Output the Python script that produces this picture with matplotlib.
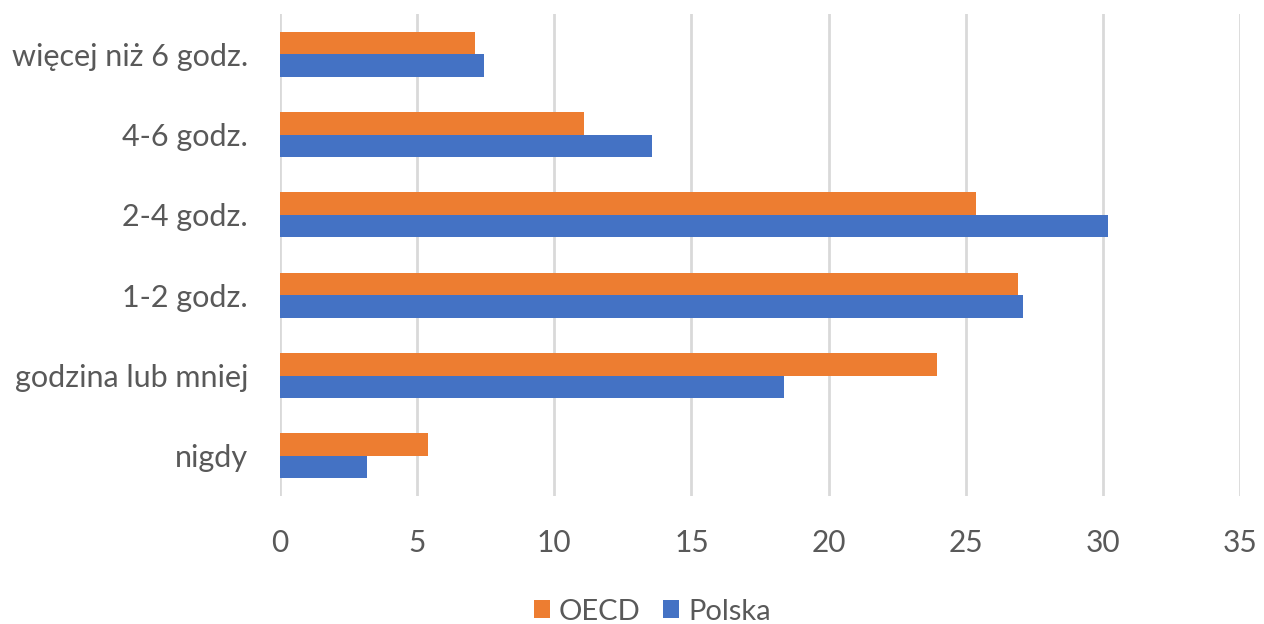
import matplotlib
matplotlib.use("Agg")
import matplotlib.pyplot as plt
import numpy as np

categories = ["nigdy", "godzina lub mniej", "1-2 godz.", "2-4 godz.", "4-6 godz.", "więcej niż 6 godz."]
oecd = [5.38, 23.97, 26.89, 25.36, 11.07, 7.12]
polska = [3.16, 18.39, 27.08, 30.19, 13.55, 7.44]
xticks = [0, 5, 10, 15, 20, 25, 30, 35]

plt.rcParams['font.family'] = ['Lato', 'DejaVu Sans']
fig = plt.figure(figsize=(12.64, 6.24), dpi=100)
ax = fig.add_axes([0.2215, 0.205, 0.7595, 0.7726])

y = np.arange(len(categories))
h = 0.28
ax.barh(y + h/2, oecd, height=h, color="#ED7D31", label="OECD", zorder=3)
ax.barh(y - h/2, polska, height=h, color="#4472C4", label="Polska", zorder=3)

ax.set_xlim(0, 35)
ax.set_ylim(-0.5, len(categories) - 0.5)
ax.set_xticks(xticks)
ax.set_yticks(y)
ax.set_yticklabels(categories)
ax.grid(axis="x", color="#D9D9D9", linewidth=2, zorder=0)
for s in ax.spines.values():
    s.set_visible(False)
ax.tick_params(axis="both", length=0, labelsize=21.5, colors="#595959")
ax.tick_params(axis="y", labelsize=22)
ax.tick_params(axis="x", pad=24)
ax.tick_params(axis="y", pad=23)

handles, labels = ax.get_legend_handles_labels()
fig.legend(handles, labels, loc="center", bbox_to_anchor=(0.516, 0.02), ncol=2, frameon=False,
           fontsize=21, labelcolor="#595959", handlelength=0.55, handleheight=0.55,
           handletextpad=0.3, columnspacing=0.8)

fig.savefig("out.png", dpi=100)
